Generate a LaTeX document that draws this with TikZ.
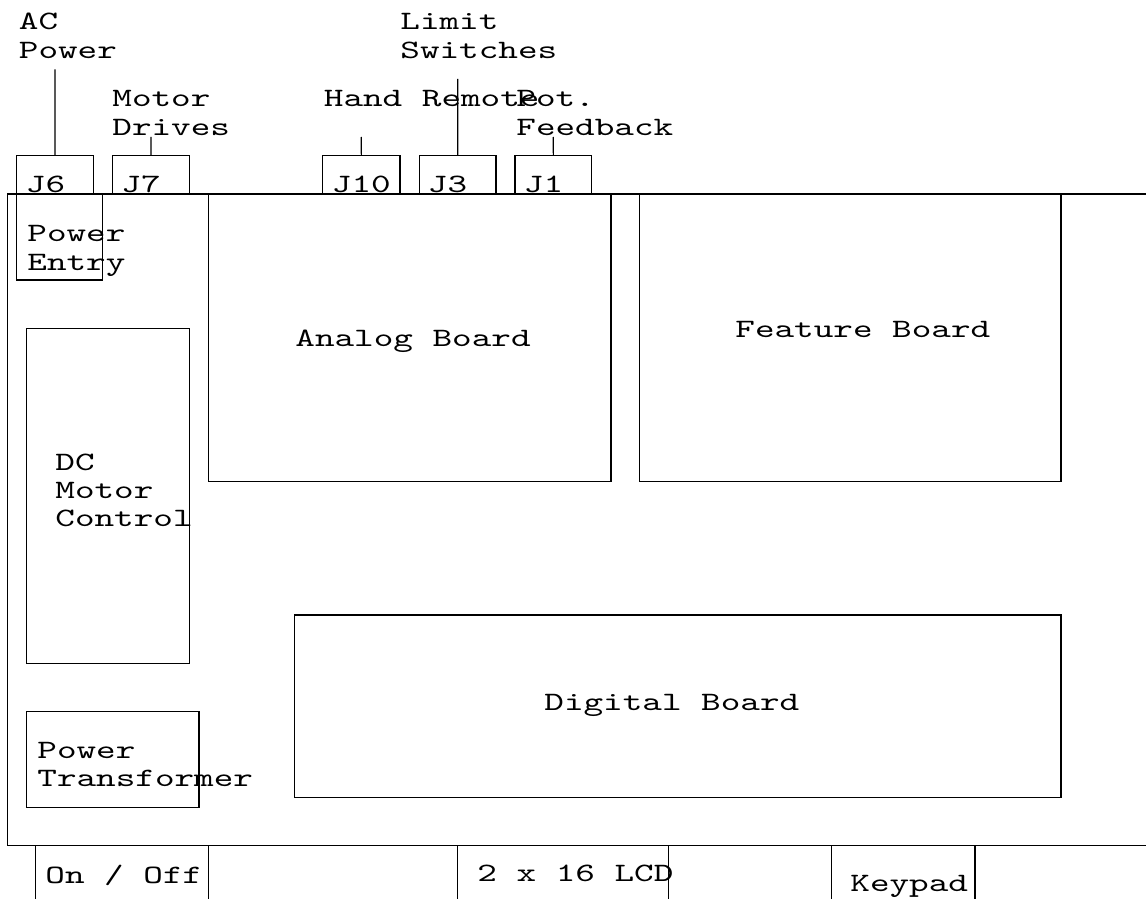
\documentclass[tikz,border=0pt]{standalone}
\usepackage{fontspec}
\newfontfamily\cour{lmmono10-regular}[Extension=.otf,FakeStretch=1.409]
\usetikzlibrary{fit}
\begin{document}
\begin{tikzpicture}[x=0.5pt,y=-0.5pt,
  box/.style={draw=black,line width=0.6pt,inner sep=0pt},
  lbl/.style={inner sep=0pt,anchor=base west,align=left,
    font=\cour\fontsize{13.25pt}{14.15pt}\selectfont},
  wire/.style={draw=black,line width=0.6pt}]
\useasboundingbox (0,0) rectangle (1146,899);
\clip (0,0) rectangle (1146,899);
\fill[white] (0,0) rectangle (1146,899);
% enclosure (open to the right)
\draw[wire] (1160,194) -- (7.5,194) -- (7.5,845.5) -- (1160,845.5);
% connector boxes on top
\node[box,fit={(16.7,155.7) (93.3,194)}] (j6) {};
\node[box,fit={(112.7,155.7) (189.3,194)}] (j7) {};
\node[box,fit={(322.7,155.7) (400,194)}] (j10) {};
\node[box,fit={(419.3,155.7) (496,194)}] (j3) {};
\node[box,fit={(515,155.7) (591.7,194)}] (j1) {};
\node[lbl] (tj6) at (25.5,192.5) {J6};
\node[lbl] (tj7) at (121,192.5) {J7};
\node[lbl] (tj10) at (331.5,192.5) {J10};
\node[lbl] (tj3) at (427.5,192.5) {J3};
\node[lbl] (tj1) at (523.5,192.5) {J1};
% external labels (base = last line)
\node[lbl] (ac) at (18.5,58.3) {AC\\Power};
\node[lbl] (md) at (112,135) {Motor\\Drives};
\node[lbl] (hr) at (323.5,107) {Hand Remote};
\node[lbl] (ls) at (400,58.3) {Limit\\Switches};
\node[lbl] (pf) at (516,135) {Pot.\\Feedback};
\coordinate (acend) at (55,69.3);
\coordinate (mdend) at (151,137);
\coordinate (hrend) at (361.3,137);
\coordinate (lsend) at (457.7,79);
\coordinate (pfend) at (553.3,137);
\draw[wire] (acend) -- (j6.north);
\draw[wire] (mdend) -- (j7.north);
\draw[wire] (hrend) -- (j10.north);
\draw[wire] (lsend) -- (j3.north);
\draw[wire] (pfend) -- (j1.north);
% internal boxes
\node[box,fit={(16.7,194) (102.7,280)}] (pe) {};
\node[lbl] (tpe) at (27,270) {Power\\Entry};
\node[box,fit={(208.3,194) (611,481.7)}] (analog) {};
\node[lbl] (tan) at (295,346.7) {Analog Board};
\node[box,fit={(639.3,194) (1061,481.7)}] (feature) {};
\node[lbl] (tfe) at (735,337.3) {Feature Board};
\node[box,fit={(26.3,328.3) (189.3,663.3)}] (dcm) {};
\node[lbl] (tdc) at (55,526.7) {DC\\Motor\\Control};
\node[box,fit={(294.3,615) (1061,797.3)}] (digital) {};
\node[lbl] (tdg) at (544,710) {Digital Board};
\node[box,fit={(26.3,711.3) (199,807.3)}] (ptr) {};
\node[lbl] (tpt) at (37,786.7) {Power\\Transformer};
% front panel items
\node[box,fit={(35.7,845.5) (208.3,920)}] (onoff) {};
\node[lbl] (ton) at (45,883.3) {On / Off};
\node[box,fit={(457.7,845.5) (668.3,920)}] (lcd) {};
\node[lbl] (tlcd) at (477,881.7) {2 x 16 LCD};
\node[box,fit={(831.7,845.5) (975,920)}] (keypad) {};
\node[lbl] (tkp) at (850,891.7) {Keypad};
\end{tikzpicture}
\end{document}
